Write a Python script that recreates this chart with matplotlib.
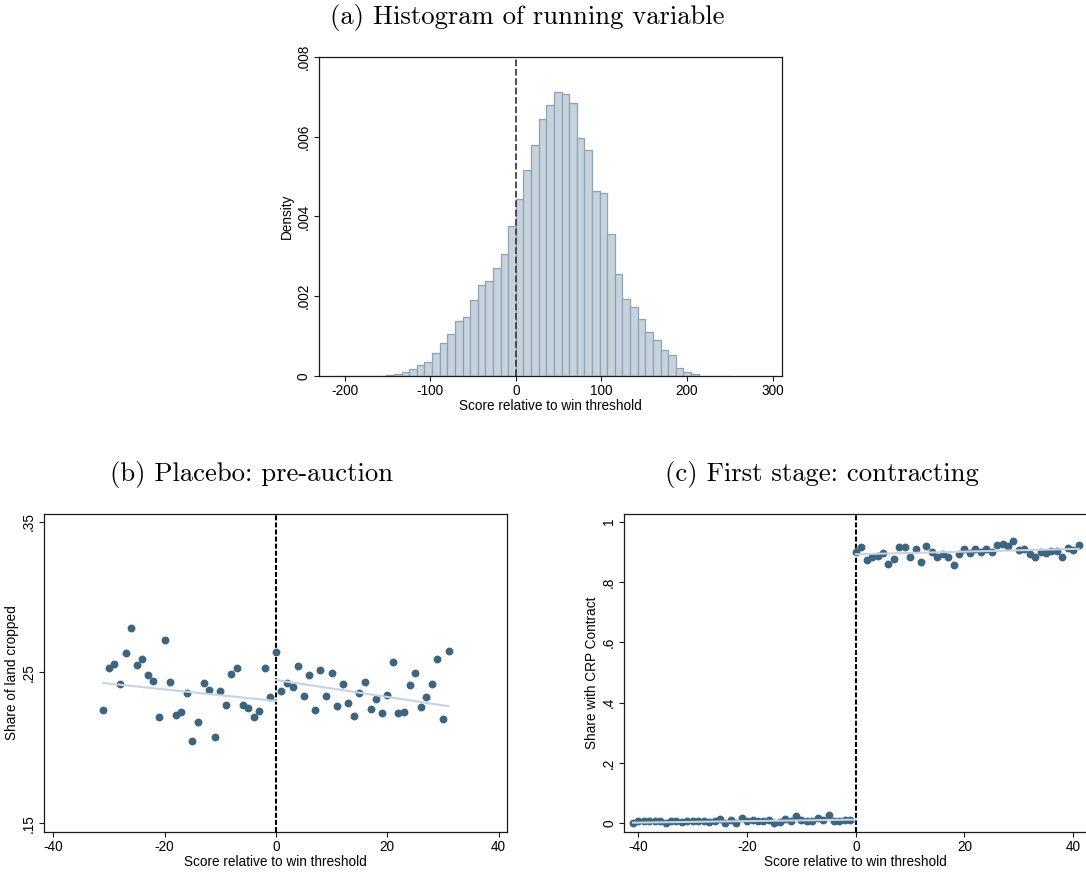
import numpy as np
import matplotlib
matplotlib.use('Agg')
import matplotlib.pyplot as plt

plt.rcParams['font.family'] = ['Liberation Sans', 'DejaVu Sans']
plt.rcParams['axes.unicode_minus'] = False

# ---- (a) histogram of running variable (density per bin) ----
bin_width = 8.9
first_bin = -24
hist_density = [
    0.00001, 0.00001, 0.00001, 0.00001, 0.00001, 0.00001, 0.00001,
    0.00003, 0.000055, 0.00011, 0.00018, 0.00027, 0.00036, 0.00058, 0.00082,
    0.00106, 0.00139, 0.00149, 0.00190, 0.00227, 0.00237, 0.00272, 0.00307, 0.00376,
    0.00445, 0.00516, 0.00580, 0.00644, 0.00680, 0.00712, 0.00707, 0.00684,
    0.00598, 0.00568, 0.00464, 0.00458, 0.00355, 0.00257, 0.00194, 0.00173,
    0.00144, 0.00111, 0.00091, 0.00064, 0.00053, 0.00021, 0.00011, 0.00005,
    0.0, 0.00001, 0.00001, 0.00001,
]
hist_yticks = [0, 0.002, 0.004, 0.006, 0.008]
hist_ylabels = ['0', '.002', '.004', '.006', '.008']
hist_xticks = [-200, -100, 0, 100, 200, 300]

# ---- (b) placebo: share of land cropped ----
b_x = list(range(-31, 32))
b_y = [
    0.2249, 0.2528, 0.2559, 0.2424, 0.2631, 0.2793, 0.2552, 0.2587, 0.2486, 0.2444,
    0.2205, 0.2718, 0.2437, 0.2218, 0.2236, 0.2364, 0.2046, 0.2172, 0.2430, 0.2382,
    0.2070, 0.2375, 0.2282, 0.2492, 0.2532, 0.2284, 0.2265, 0.2203, 0.2247, 0.2528,
    0.2340,
    0.2636, 0.2375, 0.2430, 0.2402, 0.2545, 0.2344, 0.2483, 0.2249, 0.2519, 0.2342,
    0.2497, 0.2276, 0.2421, 0.2300, 0.2214, 0.2366, 0.2439, 0.2258, 0.2326, 0.2231,
    0.2353, 0.2572, 0.2231, 0.2236, 0.2417, 0.2499, 0.2271, 0.2337, 0.2424, 0.2592,
    0.2191, 0.2643,
]
b_fit_left_x = [-31, 0]
b_fit_left_y = [0.2430, 0.2311]
b_fit_right_x = [0, 31]
b_fit_right_y = [0.2450, 0.2276]
b_yticks = [0.15, 0.25, 0.35]
b_ylabels = ['.15', '.25', '.35']

# ---- (c) first stage: share with CRP contract ----
c_x = list(range(-41, 42))
c_y = [
    0.000, 0.006, 0.009, 0.006, 0.006, 0.006, 0.000, 0.006, 0.009, 0.003,
    0.008, 0.009, 0.009, 0.006, 0.004, 0.008, 0.014, 0.000, 0.011, 0.002,
    0.019, 0.007, 0.012, 0.007, 0.006, 0.010, 0.000, 0.003, 0.014, 0.008,
    0.024, 0.010, 0.006, 0.007, 0.017, 0.012, 0.028, 0.009, 0.008, 0.011,
    0.012,
    0.899, 0.915, 0.873, 0.884, 0.885, 0.897, 0.859, 0.875, 0.915, 0.916,
    0.882, 0.911, 0.867, 0.921, 0.899, 0.882, 0.892, 0.883, 0.856, 0.892,
    0.908, 0.896, 0.910, 0.899, 0.910, 0.898, 0.923, 0.925, 0.921, 0.937,
    0.906, 0.911, 0.892, 0.882, 0.898, 0.896, 0.903, 0.903, 0.882, 0.913,
    0.907, 0.922,
]
c_fit_left_x = [-41, 0]
c_fit_left_y = [0.002, 0.012]
c_fit_right_x = [0, 41]
c_fit_right_y = [0.892, 0.910]
c_yticks = [0, 0.2, 0.4, 0.6, 0.8, 1.0]
c_ylabels = ['0', '.2', '.4', '.6', '.8', '1']
bc_xticks = [-40, -20, 0, 20, 40]

xlab = 'Score relative to win threshold'
dot_color = '#3d6580'
fit_color = '#c5d4e0'
fs = 9.8


def style_axes(ax):
    for s in ax.spines.values():
        s.set_color('#1a1a1a')
        s.set_linewidth(0.9)
    ax.tick_params(direction='out', length=3.8, width=0.8, color='#1a1a1a',
                   labelsize=fs, pad=2)
    ax.tick_params(axis='y', labelrotation=90)
    for lab in ax.get_yticklabels():
        lab.set_va('center')


fig = plt.figure(figsize=(10.86, 8.72), dpi=100)

# (a)
ax = fig.add_axes([319 / 1086, 1 - 376 / 872, 463 / 1086, 319 / 872])
edges = bin_width * np.arange(first_bin, first_bin + len(hist_density))
ax.bar(edges, hist_density, width=bin_width, align='edge',
       color='#c6d2dc', edgecolor='#8ea3b4', linewidth=0.9)
ax.axvline(0, color='#404040', lw=1.3, linestyle=(0, (3.7, 1.5)))
ax.set_xlim(-230, 311)
ax.set_ylim(0, 0.008)
ax.set_xticks(hist_xticks)
ax.set_xticklabels([str(t) for t in hist_xticks])
ax.set_yticks(hist_yticks)
ax.set_yticklabels(hist_ylabels)
ax.set_xlabel(xlab, fontsize=fs, labelpad=1)
ax.set_ylabel('Density', fontsize=fs, labelpad=2)
style_axes(ax)

# (b)
ax = fig.add_axes([44.3 / 1086, 1 - 831.7 / 872, 462.7 / 1086, 317.7 / 872])
ax.scatter(b_x, b_y, s=32, color=dot_color, linewidths=0, zorder=3)
ax.plot(b_fit_left_x, b_fit_left_y, color=fit_color, lw=1.5, zorder=4)
ax.plot(b_fit_right_x, b_fit_right_y, color=fit_color, lw=1.5, zorder=4)
ax.axvline(0, color='black', lw=1.5, linestyle=(0, (2.4, 1.0)), zorder=2)
ax.set_xlim(-41.6, 41.5)
ax.set_ylim(0.1444, 0.3551)
ax.set_xticks(bc_xticks)
ax.set_xticklabels([str(t) for t in bc_xticks])
ax.set_yticks(b_yticks)
ax.set_yticklabels(b_ylabels)
ax.set_xlabel(xlab, fontsize=fs, labelpad=1)
ax.set_ylabel('Share of land cropped', fontsize=fs, labelpad=2)
style_axes(ax)

# (c)
ax = fig.add_axes([624.3 / 1086, 1 - 831.7 / 872, 463 / 1086, 317.7 / 872])
ax.scatter(c_x, c_y, s=32, color=dot_color, linewidths=0, zorder=3)
ax.plot(c_fit_left_x, c_fit_left_y, color=fit_color, lw=1.5, zorder=4)
ax.plot(c_fit_right_x, c_fit_right_y, color=fit_color, lw=1.5, zorder=4)
ax.axvline(0, color='black', lw=1.5, linestyle=(0, (2.4, 1.0)), zorder=2)
ax.set_xlim(-42.6, 42.6)
ax.set_ylim(-0.028, 1.0255)
ax.set_xticks(bc_xticks)
ax.set_xticklabels([str(t) for t in bc_xticks])
ax.set_yticks(c_yticks)
ax.set_yticklabels(c_ylabels)
ax.set_xlabel(xlab, fontsize=fs, labelpad=1)
ax.set_ylabel('Share with CRP Contract', fontsize=fs, labelpad=2)
style_axes(ax)

# panel captions
tfont = dict(family=['cmr10', 'DejaVu Serif'], fontsize=19.2, ha='center', va='baseline')
fig.text(527 / 1086, 1 - 24 / 872, '(a) Histogram of running variable', **tfont)
fig.text(252 / 1086, 1 - 481 / 872, '(b) Placebo: pre-auction', **tfont)
fig.text(822 / 1086, 1 - 481 / 872, '(c) First stage: contracting', **tfont)

fig.savefig('out.png', dpi=100)
